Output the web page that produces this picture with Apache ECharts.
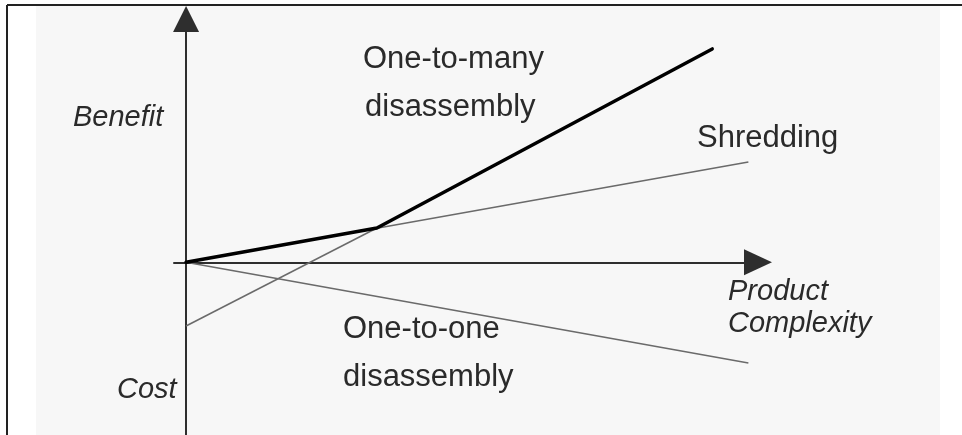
<!DOCTYPE html>
<html>
<head>
<meta charset="utf-8">
<script src="https://cdn.jsdelivr.net/npm/echarts@6/dist/echarts.min.js"></script>
<style>
  html, body { margin: 0; padding: 0; background: #fff; }
  #chart { width: 962px; height: 435px; }
</style>
</head>
<body>
<div id="chart"></div>
<script>
// product complexity (x) vs benefit / cost (y)
var shredding = [[0, 0], [9.34, 4.12]];
var oneToOne = [[0, 0], [9.34, -4.14]];
var oneToManyCost = [[0, -2.62], [3.17, 1.41]];
var bestOption = [[0, 0], [3.17, 1.41], [8.74, 8.77]];

var xRange = [-0.2, 9.5];
var yRange = [-7.1, 10];

var textColor = '#2a2a2a';
var thinColor = '#6a6a6a';

function label(txt, x, y, italic, size) {
    return {
        type: 'text',
        x: x,
        y: y,
        style: {
            text: txt,
            fill: textColor,
            font: (italic ? 'italic ' : '') + size + 'px "Liberation Sans", Arial, sans-serif',
            align: 'left',
            verticalAlign: 'middle'
        },
        z: 10
    };
}

var chart = echarts.init(document.getElementById('chart'));

var option = {
    backgroundColor: '#ffffff',
    animation: false,
    grid: {
        left: 174,
        right: 204,
        top: 19,
        bottom: 0,
        containLabel: false
    },
    xAxis: {
        type: 'value',
        min: xRange[0],
        max: xRange[1],
        splitLine: {show: false},
        axisTick: {show: false},
        axisLabel: {show: false},
        axisLine: {
            show: true,
            onZero: true,
            symbol: ['none', 'triangle'],
            symbolSize: [26, 28],
            lineStyle: {color: '#2e2e2e', width: 2}
        }
    },
    yAxis: {
        type: 'value',
        min: yRange[0],
        max: yRange[1],
        splitLine: {show: false},
        axisTick: {show: false},
        axisLabel: {show: false},
        axisLine: {
            show: true,
            onZero: true,
            symbol: ['none', 'triangle'],
            symbolSize: [26, 26],
            lineStyle: {color: '#2e2e2e', width: 2}
        }
    },
    graphic: [
        {type: 'rect', shape: {x: 36, y: 6, width: 904, height: 429}, style: {fill: '#f7f7f7'}, z: -10, silent: true},
        {type: 'line', shape: {x1: 7, y1: 5, x2: 962, y2: 5}, style: {stroke: '#222', lineWidth: 2}, z: -5},
        {type: 'line', shape: {x1: 7, y1: 5, x2: 7, y2: 435}, style: {stroke: '#222', lineWidth: 2}, z: -5},
        label('Benefit', 73, 118, true, 29),
        label('Cost', 117, 390, true, 29),
        label('One-to-many', 363, 59, false, 31),
        label('disassembly', 365, 107, false, 31),
        label('Shredding', 697, 138, false, 31),
        label('Product', 728, 292, true, 29),
        label('Complexity', 728, 324, true, 29),
        label('One-to-one', 343, 329, false, 31),
        label('disassembly', 343, 377, false, 31)
    ],
    series: [
        {
            name: 'Shredding',
            type: 'line',
            data: shredding,
            showSymbol: false,
            lineStyle: {color: thinColor, width: 1.5}
        },
        {
            name: 'One-to-one',
            type: 'line',
            data: oneToOne,
            showSymbol: false,
            lineStyle: {color: thinColor, width: 1.5}
        },
        {
            name: 'One-to-many',
            type: 'line',
            data: oneToManyCost,
            showSymbol: false,
            lineStyle: {color: thinColor, width: 1.5}
        },
        {
            name: 'Best',
            type: 'line',
            data: bestOption,
            showSymbol: false,
            z: 5,
            lineStyle: {color: '#000', width: 3.5, join: 'round', cap: 'round'}
        }
    ]
};

chart.setOption(option);
window.addEventListener('resize', function() {
    chart.resize();
});
</script>
</body>
</html>
